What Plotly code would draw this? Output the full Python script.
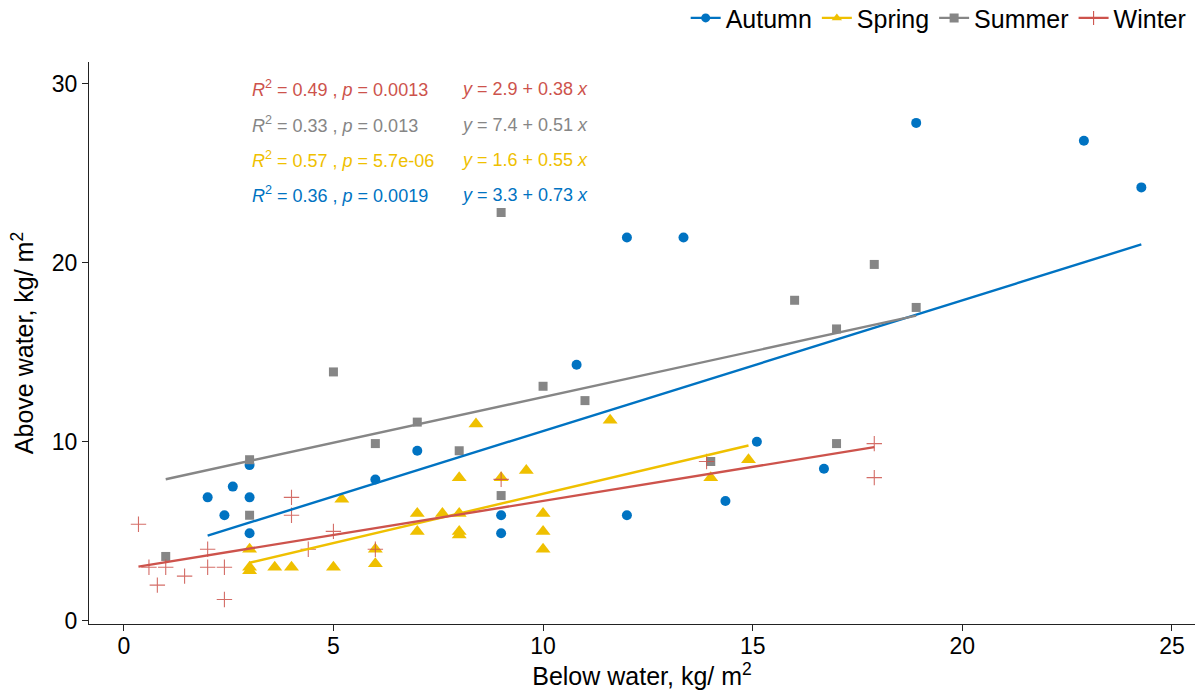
import numpy as np
import plotly.graph_objects as go

seasons = ["Autumn", "Spring", "Summer", "Winter"]
colors = ["#0073C2", "#EFC000", "#868686", "#CD534C"]
symbols = ["circle", "triangle-up", "square", "cross-thin-open"]

autumn_x = [2.0, 2.4, 2.6, 3.0, 3.0, 3.0, 6.0, 7.0, 9.0, 9.0, 10.8, 12.0, 12.0, 13.35, 14.35, 15.1, 16.7, 18.9, 22.9, 24.27]
autumn_y = [6.9, 5.9, 7.5, 8.7, 6.9, 4.9, 7.9, 9.5, 5.9, 4.9, 14.3, 21.4, 5.9, 21.4, 6.7, 10.0, 8.5, 27.8, 26.8, 24.2]

spring_x = [3.0, 3.0, 3.0, 3.6, 4.0, 5.0, 5.2, 6.0, 6.0, 7.0, 7.0, 7.6, 8.0, 8.0, 8.0, 8.0, 8.4, 9.0, 9.6, 10.0, 10.0, 10.0, 11.6, 14.0, 14.9]
spring_y = [4.0, 3.0, 2.8, 3.0, 3.0, 3.0, 6.8, 4.0, 3.2, 6.0, 5.0, 6.0, 6.0, 5.0, 4.8, 8.0, 11.0, 8.0, 8.4, 6.0, 5.0, 4.0, 11.2, 8.0, 9.0]

summer_x = [1.0, 3.0, 3.0, 5.0, 6.0, 7.0, 8.0, 9.0, 9.0, 10.0, 11.0, 14.0, 16.0, 17.0, 17.0, 17.9, 18.9]
summer_y = [3.6, 9.0, 5.9, 13.9, 9.9, 11.1, 9.5, 22.8, 7.0, 13.1, 12.3, 8.9, 17.9, 16.3, 9.9, 19.9, 17.5]

winter_x = [0.35, 0.6, 0.8, 1.0, 1.45, 2.0, 2.0, 2.4, 2.4, 4.0, 4.0, 4.4, 5.0, 6.0, 9.0, 13.9, 17.9, 17.9]
winter_y = [5.4, 3.0, 2.0, 3.0, 2.5, 4.0, 3.0, 3.0, 1.2, 6.9, 5.9, 4.0, 5.0, 4.0, 7.9, 8.9, 9.9, 8.0]

intercepts = [3.3, 1.6, 7.4, 2.9]
slopes = [0.73, 0.55, 0.51, 0.38]
r2_labels = ["0.36", "0.57", "0.33", "0.49"]
p_labels = ["0.0019", "5.7e-06", "0.013", "0.0013"]
label_y = [23.8, 25.75, 27.7, 29.7]
label_x_cor = 3.0
label_x_eq = 8.0

xs = [autumn_x, spring_x, summer_x, winter_x]
ys = [autumn_y, spring_y, summer_y, winter_y]
sizes = [10, 13, 9, 11]

FONT = "Liberation Sans, Arial"

fig = go.Figure()

for i, s in enumerate(seasons):
    mk = dict(color=colors[i], size=sizes[i], symbol=symbols[i])
    if symbols[i].endswith("open"):
        mk["line"] = dict(color=colors[i], width=1.1)
        mk["opacity"] = 0.85
    else:
        mk["line"] = dict(width=0)
    fig.add_trace(go.Scatter(x=xs[i], y=ys[i], mode="markers", marker=mk,
                             showlegend=False, hoverinfo="x+y", name=s))

for i, s in enumerate(seasons):
    xx = np.array([min(xs[i]), max(xs[i])])
    yy = intercepts[i] + slopes[i] * xx
    fig.add_trace(go.Scatter(x=xx, y=yy, mode="lines",
                             line=dict(color=colors[i], width=2.4),
                             showlegend=False, name=s))

for i, s in enumerate(seasons):
    mk = dict(color=colors[i], size=9, symbol=symbols[i])
    if symbols[i].endswith("open"):
        mk["line"] = dict(color=colors[i], width=1.1)
        mk["size"] = 10
    fig.add_trace(go.Scatter(x=[None], y=[None], mode="lines+markers", name=s,
                             marker=mk, line=dict(color=colors[i], width=2.4)))

for i in range(4):
    fig.add_annotation(x=label_x_cor, y=label_y[i], xref="x", yref="y",
                       text=f"<i>R</i><sup>2</sup> = {r2_labels[i]} , <i>p</i> = {p_labels[i]}",
                       showarrow=False, xanchor="left", yanchor="middle",
                       font=dict(family=FONT, size=18, color=colors[i]))
    fig.add_annotation(x=label_x_eq, y=label_y[i], xref="x", yref="y",
                       text=f"<i>y</i> = {intercepts[i]} + {slopes[i]} <i>x</i>",
                       showarrow=False, xanchor="left", yanchor="middle",
                       font=dict(family=FONT, size=18, color=colors[i]))

axis_common = dict(showgrid=False, zeroline=False, showline=True, linecolor="#222222",
                   linewidth=1.2, ticks="outside", ticklen=6, tickwidth=1.2, tickcolor="#222222",
                   tickfont=dict(family=FONT, size=23, color="black"),
                   mirror=False)

fig.update_xaxes(range=[-0.83, 25.55], tickvals=[0, 5, 10, 15, 20, 25],
                 ticklabelstandoff=-5,
                 title=dict(text="Below water, kg/ m<sup>2</sup>",
                            font=dict(family=FONT, size=25, color="black"),
                            standoff=4),
                 **axis_common)
fig.update_yaxes(range=[-0.17, 31.2], tickvals=[0, 10, 20, 30],
                 title=dict(text="Above water, kg/ m<sup>2</sup>",
                            font=dict(family=FONT, size=25, color="black"),
                            standoff=10),
                 **axis_common)

fig.update_layout(
    width=1198, height=697,
    margin=dict(l=89, r=3, t=62, b=73, autoexpand=False),
    plot_bgcolor="white", paper_bgcolor="white",
    font=dict(family=FONT, color="black"),
    legend=dict(orientation="h", x=0.997, xanchor="right", y=1.078, yanchor="middle",
                font=dict(family=FONT, size=25, color="black"),
                itemwidth=30, tracegroupgap=0, bgcolor="rgba(0,0,0,0)"),
)

fig.write_html("out.html")
